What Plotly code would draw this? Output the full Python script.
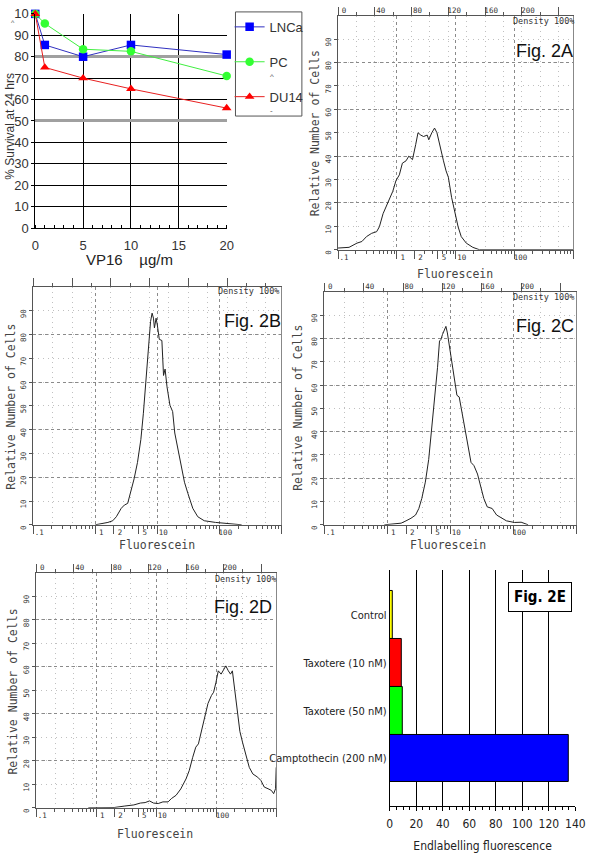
import plotly.graph_objects as go

W, H = 600, 858
def px(x): return x / W
def py(y): return 1 - y / H

MONO = "DejaVu Sans Mono"
SANS = "Liberation Sans, Arial"
NARROW = "DejaVu Sans Condensed, Liberation Sans Narrow, Arial Narrow, Liberation Sans"

# ---------------- Fig 1: survival line chart ----------------
dose = [0, 1, 5, 10, 20]
lncap = [100, 85.5, 80, 85.5, 81]
pc3 = [100, 95.5, 83.5, 82.5, 71]
du145 = [100, 75, 70, 65, 56]
series_names = ["LNCa", "PC", "DU14"]
surv_yticks = [0, 10, 20, 30, 40, 50, 60, 70, 80, 90, 100]
surv_yticktext = ["0", "10", "20", "30", "40", "50", "60", "70", "80", "90", "10"]
surv_xticks = [0, 5, 10, 15, 20]

# ---------------- Fig 2E: bar chart ----------------
e_cats = ["Control", "Taxotere (10 nM)", "Taxotere (50 nM)", "Camptothecin (200 nM)"]
e_vals = [2, 9.3, 9.8, 135]
e_colors = ["#ffff00", "#ff0000", "#00ff00", "#0000ff"]

# ---------------- Fig 2A-2D: flow cytometry histograms (channel 0-256, count) ----------------
h2a_ch = [0, 12, 20.6, 26, 31, 36.6, 42, 45, 49, 54, 59.6, 63, 66.7, 70, 74, 77, 81, 84.5, 87, 90, 93,
          97, 98.7, 102, 105, 107.6, 111, 114.7, 117.5, 120, 123.5, 127, 130.6, 134, 139.5, 146.6, 153.7, 256]
h2a_ct = [0.7, 1, 2.8, 3.5, 5.6, 7, 7.7, 9.8, 15.4, 19.6, 25, 29.5, 32, 37, 38, 40, 38.5, 45, 50, 49, 48.4,
          49, 47, 50, 52, 50, 43.5, 38, 33.7, 31, 22.4, 15.4, 9.8, 5.6, 2.8, 1, 0, 0]

h2b_ch = [64, 70.6, 77, 82, 85.7, 90.7, 94, 97.4, 100.8, 104, 107.5, 111, 113.6, 116, 117.6, 119, 121,
          122.6, 124, 125, 126.7, 128, 130, 132.7, 134.4, 136, 138, 141, 143.8, 146, 149.5, 153, 156,
          159.6, 164.6, 169.7, 176.4, 188, 205, 215]
h2b_ct = [0, 0.4, 1, 1.7, 3.4, 6.9, 8.3, 9, 13.8, 19.3, 26.2, 35.9, 46.9, 60.7, 66.9, 75.9, 85.5,
          89, 86.9, 82.8, 86.9, 84, 78, 77.5, 62.8, 65.5, 58, 50.3, 47.6, 38.6, 31.7, 23.4, 17.9,
          13.1, 6.9, 3.4, 1.7, 1, 0.3, 0]

h2c_ch = [61, 71, 78, 83, 88, 92.7, 96, 99, 102.6, 106, 109, 112.5, 115, 117, 118.5, 120, 121.8, 123.5,
          125, 127.4, 130, 132.4, 134.7, 137, 139, 141, 144, 146.6, 149, 152, 155.6, 159, 162, 165.5,
          170.5, 175, 180, 185, 193, 200, 207]
h2c_ct = [0, 0.3, 0.7, 1.7, 2.8, 4.2, 7, 11.3, 18.3, 28, 40.8, 56.3, 67.6, 78.9, 79.6, 81.7, 83.8, 85.2,
          82.4, 76, 69.7, 62, 55.6, 54.9, 50, 45, 38, 32.4, 26.8, 25.4, 21.8, 16.2, 11.3, 7.7,
          7, 4.2, 3.1, 1.7, 1, 1.1, 0]

h2d_ch = [55.5, 69, 83, 93.7, 104, 111, 116, 120.7, 125, 130, 135, 140.5, 144, 149, 154, 159.6, 163,
          166.6, 170, 172.8, 176, 180, 183, 186.7, 189, 191.5, 194, 197, 199.5, 202, 204.7, 207, 209,
          211.7, 214.5, 217, 220, 224, 227, 230.8, 236, 239.4, 243, 247, 250.5, 253, 255, 255.7]
h2d_ct = [0, 0, 0.1, 0.7, 1.2, 2, 2.2, 2.9, 2, 1.8, 2.5, 2.5, 3.9, 5.3, 8, 12.3, 15.8,
          21.3, 25.8, 27.2, 32.5, 39.5, 44.4, 47.8, 49.2, 53.4, 58.3, 56.9, 59, 60.4, 58.3, 56.9, 58.3,
          49.2, 42.3, 32.5, 27.6, 22, 17.2, 14.4, 13, 11.6, 8.8, 8.1, 7.4, 6, 8.1, 17.2]

chan_ticks = [0, 40, 80, 120, 160, 200, 240]
chan_ticktext = ["0", "40", "80", "120", "160", "200", ""]
fl_ticks = [0.1, 1, 2, 5, 10, 100, 1000]
fl_ticktext = [".1", "1", "2", "5", "10", "100", ""]
fl_minor = [0.2, 0.3, 0.4, 0.5, 0.6, 0.7, 0.8, 0.9, 3, 4, 6, 7, 8, 9,
            20, 30, 40, 50, 60, 70, 80, 90, 200, 300, 400, 500, 600, 700, 800, 900]
fl_decades = [1, 10, 100]
cnt_ticks = [0, 10, 20, 30, 40, 50, 60, 70, 80, 90]
cnt_ticktext = ["0", "10", "20", "30", "40", "50", "60", "70", "80", "90"]
cnt_major = [20, 40, 60, 80]

panels = [
    dict(label="Fig. 2A", ch=h2a_ch, ct=h2a_ct, xd=(342, 583), yd=(9, 247), toplab=True,
         fig=(522, 45), dens=(519, 14.5), yt=(318, 129), xt=(462, 272)),
    dict(label="Fig. 2B", ch=h2b_ch, ct=h2b_ct, xd=(30, 284), yd=(285, 527), toplab=False,
         fig=(223, 320), dens=(217, 289), yt=(7, 407), xt=(157, 548)),
    dict(label="Fig. 2C", ch=h2c_ch, ct=h2c_ct, xd=(328, 586), yd=(290, 527), toplab=True,
         fig=(522, 325), dens=(519, 295), yt=(301, 408), xt=(455, 548)),
    dict(label="Fig. 2D", ch=h2d_ch, ct=h2d_ct, xd=(33, 279), yd=(576, 815), toplab=True,
         fig=(213, 611), dens=(214, 582), yt=(9, 697), xt=(155, 842)),
]

fig = go.Figure()
layout = {}
annotations = []
shapes = []

def note(text, x, y, size, family=SANS, color="#333", angle=0, xanchor="center", **kw):
    annotations.append(dict(text=text, xref="paper", yref="paper", x=px(x), y=py(y), textangle=angle,
                            xanchor=xanchor, yanchor="middle", showarrow=False,
                            font=dict(family=family, size=size, color=color), **kw))

# ---- survival chart ----
styles = [
    dict(marker=dict(symbol="square", size=8.5, color="#0000ff"), line=dict(color="#3030c0", width=1)),
    dict(marker=dict(symbol="circle", size=8.5, color="#33ff33"), line=dict(color="#40ee40", width=1)),
    dict(marker=dict(symbol="triangle-up", size=8.5, color="#ff0000"), line=dict(color="#e82020", width=1)),
]
for i, (vals, nm) in enumerate(zip([lncap, pc3, du145], series_names)):
    fig.add_trace(go.Scatter(x=dose, y=vals, name=nm, mode="lines+markers", xaxis="x", yaxis="y",
                             legendgroup=nm, cliponaxis=False, **styles[i]))
fig.add_trace(go.Scatter(x=[], y=[], xaxis="x", yaxis="y2", showlegend=False, hoverinfo="skip"))

layout["xaxis"] = dict(domain=[px(32), px(228)], range=[0, 20], anchor="y", tickvals=surv_xticks,
                       showgrid=True, gridcolor="#000", gridwidth=1, showline=True, linecolor="#000",
                       zeroline=False, ticks="", tickfont=dict(family=SANS, size=13, color="#333"),
                       ticklabelstandoff=5,
                       minor=dict(dtick=1, ticks="inside", ticklen=3, tickcolor="#000", showgrid=False))
layout["yaxis"] = dict(domain=[py(225), py(7)], range=[0, 100], anchor="x", tickvals=surv_yticks,
                       ticktext=surv_yticktext, showgrid=True, gridcolor="#000", gridwidth=1,
                       showline=True, linecolor="#000", zeroline=False, ticks="outside", ticklen=3,
                       tickcolor="#000", tickfont=dict(family=SANS, size=13, color="#333"),
                       ticklabelstandoff=0)
layout["yaxis2"] = dict(overlaying="y", range=[0, 100], anchor="x", tickvals=[50, 80],
                        showticklabels=False, ticks="", showgrid=True, gridcolor="#a0a0a0", gridwidth=3,
                        showline=False, zeroline=False)
note("% Survival at 24 hrs", 6, 121, 12, angle=-90)
note("VP16&nbsp;&nbsp;&nbsp;&nbsp;µg/m", 129, 257, 15, color="#222")
note("^", 9, 16, 7, color="#555")
note("^", 270, 71, 8, color="#555", xanchor="left")
note("-", 270, 105, 8, color="#555", xanchor="left")
shapes.append(dict(type="rect", xref="paper", yref="paper", x0=px(237), x1=px(305), y0=py(111), y1=py(5),
                   line=dict(color="#555", width=1), fillcolor="rgba(0,0,0,0)", layer="above"))

# ---- Fig 2E ----
fig.add_trace(go.Bar(y=e_cats, x=e_vals, orientation="h", xaxis="x2", yaxis="y3", showlegend=False,
                     marker=dict(color=e_colors, line=dict(color="#000", width=1))))
layout["xaxis2"] = dict(domain=[px(395), px(585)], range=[0, 140], anchor="y3", dtick=20, tick0=0,
                        showgrid=True, gridcolor="#000", gridwidth=1, showline=True, linecolor="#000",
                        zeroline=False, ticks="outside", ticklen=4, tickcolor="#000",
                        tickfont=dict(family=NARROW, size=12, color="#222"), ticklabelstandoff=3,
                        minor=dict(dtick=5, ticks="outside", ticklen=3, tickcolor="#000", showgrid=False),
                        title=dict(text="Endlabelling fluorescence", font=dict(family=NARROW, size=12, color="#222"),
                                   standoff=11))
layout["yaxis3"] = dict(domain=[py(813), py(573)], anchor="x2", type="category", categoryorder="array",
                        categoryarray=e_cats, range=[3.99, -0.95], showline=True, linecolor="#000",
                        ticks="", showgrid=False, tickfont=dict(family=NARROW, size=11, color="#222"))
note("<b>Fig. 2E</b>", 549, 601, 15, family=NARROW, color="#000",
     bordercolor="#000", borderwidth=1, borderpad=5, bgcolor="#fff")

# ---- histograms ----
LINEC = "#555"
for k, p in enumerate(panels):
    xc, xl, xg = 3 + 3 * k, 4 + 3 * k, 5 + 3 * k
    ym, yg = 4 + 2 * k, 5 + 2 * k
    xc_id, xl_id, xg_id = f"x{xc}", f"x{xl}", f"x{xg}"
    ym_id, yg_id = f"y{ym}", f"y{yg}"
    dom_x = [px(p["xd"][0]), px(p["xd"][1])]
    dom_y = [py(p["yd"][1]), py(p["yd"][0])]

    fig.add_trace(go.Scatter(x=p["ch"], y=p["ct"], mode="lines", xaxis=xc_id, yaxis=ym_id,
                             line=dict(color="#222", width=1), showlegend=False, hoverinfo="skip"))
    for xa, ya in [(xl_id, ym_id), (xg_id, ym_id), (xc_id, yg_id)]:
        fig.add_trace(go.Scatter(x=[], y=[], xaxis=xa, yaxis=ya, showlegend=False, hoverinfo="skip"))

    sparse = dict(gridcolor="#c0c0c0", griddash="1px,4px", gridwidth=1)
    layout[f"xaxis{xc}"] = dict(domain=dom_x, range=[0, 256], anchor=ym_id, side="top",
                                tickvals=chan_ticks, ticktext=chan_ticktext, showticklabels=p["toplab"],
                                ticks="outside", ticklen=8, tickcolor=LINEC, ticklabelshift=6,
                                ticklabelstandoff=-9, tickfont=dict(family=MONO, size=7.5, color="#333"),
                                showgrid=True, showline=True, linecolor=LINEC, zeroline=False,
                                minor=dict(dtick=20, ticks="outside", ticklen=3, tickcolor=LINEC,
                                           showgrid=True, **sparse), **sparse)
    layout[f"xaxis{xl}"] = dict(type="log", range=[-1, 3], overlaying=xc_id, anchor=ym_id, side="bottom",
                                tickvals=fl_ticks, ticktext=fl_ticktext, ticks="outside", ticklen=8,
                                tickcolor=LINEC, ticklabelshift=6, ticklabelstandoff=-8,
                                tickfont=dict(family=MONO, size=7.5, color="#333"), showgrid=False,
                                showline=True, linecolor=LINEC, zeroline=False,
                                minor=dict(tickvals=fl_minor, ticks="outside", ticklen=3, tickcolor=LINEC,
                                           showgrid=False))
    layout[f"xaxis{xg}"] = dict(type="log", range=[-1, 3], overlaying=xc_id, anchor=ym_id,
                                tickvals=fl_decades, showticklabels=False, ticks="", showgrid=True,
                                gridcolor="#8a8a8a", griddash="dot", gridwidth=1, showline=False,
                                zeroline=False)
    layout[f"yaxis{ym}"] = dict(domain=dom_y, range=[0, 100], anchor=xc_id, tickvals=cnt_ticks,
                                ticktext=cnt_ticktext, tickangle=-90, ticks="outside", ticklen=3,
                                tickcolor=LINEC, ticklabelshift=4,
                                tickfont=dict(family=MONO, size=7.5, color="#333"),
                                showline=True, linecolor=LINEC, zeroline=False, showgrid=True, **sparse)
    layout[f"yaxis{yg}"] = dict(overlaying=ym_id, range=[0, 100], anchor=xc_id, side="right",
                                tickvals=cnt_major, showticklabels=False, ticks="", showgrid=True,
                                gridcolor="#8a8a8a", griddash="dot", gridwidth=1, showline=True,
                                linecolor="#888", zeroline=False)

    note(p["label"], p["fig"][0], p["fig"][1], 18, color="#111", xanchor="left")
    note("Density 100%", p["dens"][0], p["dens"][1], 8.5, family=MONO, xanchor="left")
    note("Relative Number of Cells", p["yt"][0], p["yt"][1], 11.5, family=MONO, color="#444", angle=-90)
    note("Fluorescein", p["xt"][0], p["xt"][1], 11.5, family=MONO, color="#444")

fig.update_layout(
    width=W, height=H, autosize=False, margin=dict(l=0, r=0, t=0, b=0, pad=0),
    paper_bgcolor="#fff", plot_bgcolor="#fff", bargap=0,
    showlegend=True,
    legend=dict(x=px(231), y=py(5), xanchor="left", yanchor="top", borderwidth=0,
                bgcolor="rgba(0,0,0,0)", font=dict(family=SANS, size=13, color="#333"), tracegroupgap=15,
                itemwidth=30),
    annotations=annotations,
    shapes=shapes,
    **layout,
)
fig.write_html("out.html", config={"displayModeBar": False},
               post_script="document.body.style.margin='0px';document.body.style.overflow='hidden';")
